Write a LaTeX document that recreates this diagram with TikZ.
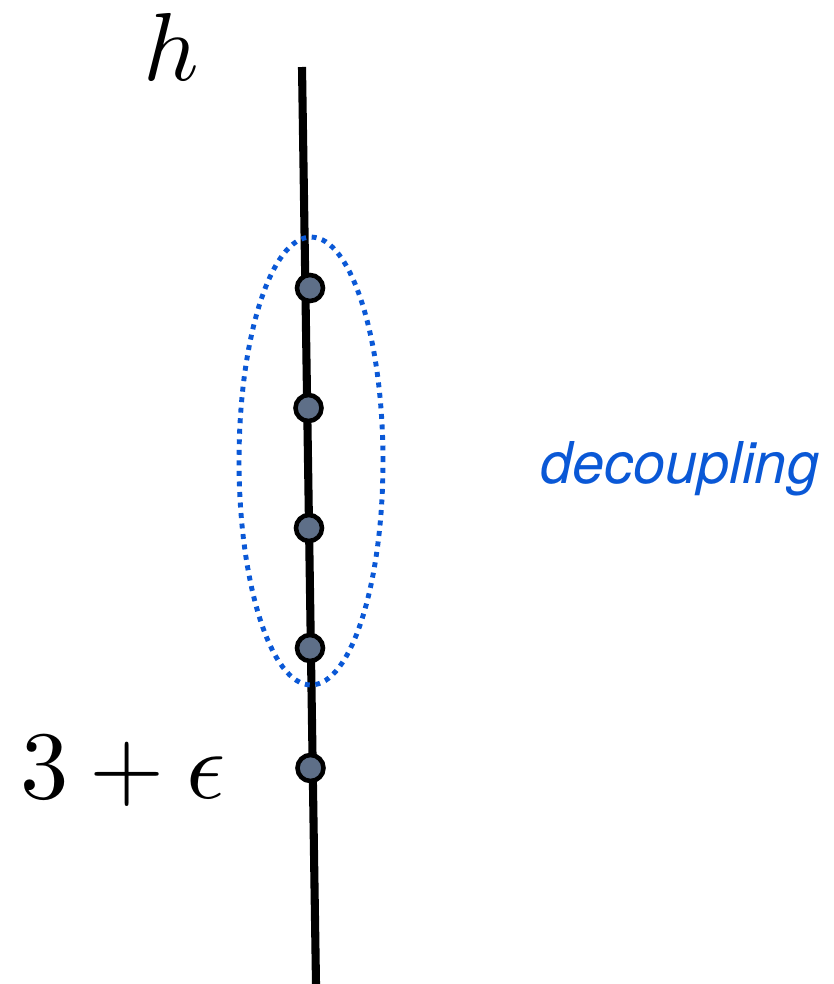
\documentclass[tikz,border=0pt]{standalone}
\usepackage{fontspec}
\usepackage{amssymb}
\usepackage{graphicx}
\usepackage{xcolor}
\newfontfamily\labelfont{TeX Gyre Heros}
\usetikzlibrary{calc, positioning}

\definecolor{sitefill}{HTML}{5E6F88}
\definecolor{halocol}{HTML}{0A58D6}

\begin{document}
\begin{tikzpicture}[x=0.02cm, y=-0.02cm,
    site/.style={draw, circle, line width=2.6pt, fill=sitefill, inner sep=0pt, minimum size=0.52cm},
    halo/.style={draw=halocol, line width=2.8pt, dash pattern=on 2.8pt off 3.2pt},
    bigmath/.style={inner sep=0pt, anchor=base}]
      \useasboundingbox (0,0) rectangle (833,984);
      \coordinate (top) at (302,67);
      \coordinate (bot) at (316,984);
      \draw[line width=4.6pt] (top) -- (bot);
      \draw[halo] (311,461) ellipse [x radius=1.44cm, y radius=4.48cm];
      \node[site] (s1) at (310,288) {};
      \node[site] (s2) at (308.5,408) {};
      \node[site] (s3) at (309,528) {};
      \node[site] (s4) at (310,648) {};
      \node[site] (s5) at (310.5,768) {};
      \node[bigmath] (hlabel) at (171,80) {\scalebox{5.5}{$h$}};
      \node[bigmath] (dim) at (123,798) {\scalebox{5.5}{$3+\epsilon$}};
      \node[anchor=base west, inner sep=0pt, text=halocol, font=\labelfont\itshape\fontsize{32.8}{38}\selectfont] (dec) at (540,483) {decoupling};
    \end{tikzpicture}
\end{document}
